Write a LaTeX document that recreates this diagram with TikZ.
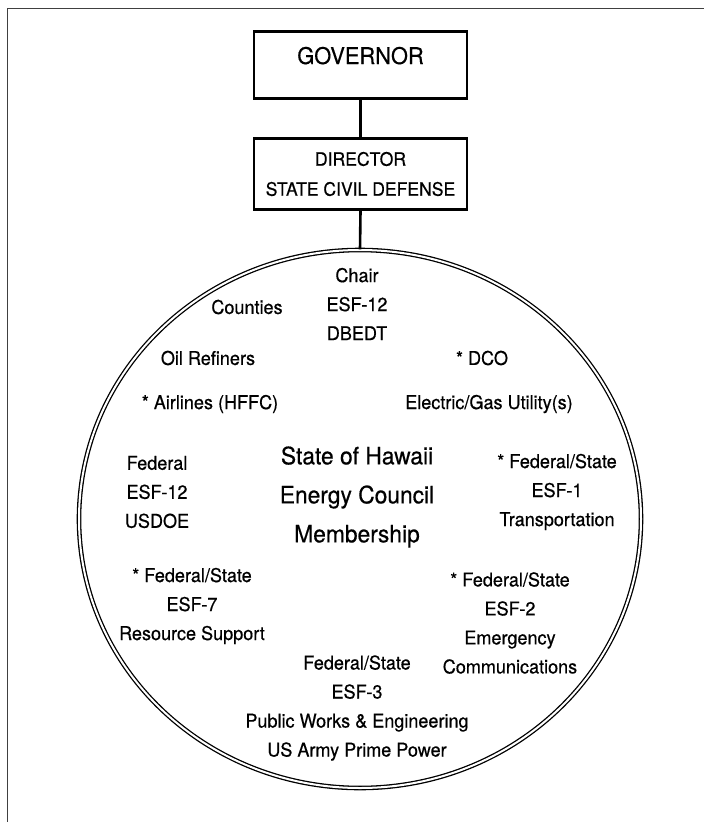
\documentclass[tikz,border=0pt]{standalone}
\usepackage{fontspec}
\setmainfont[FakeStretch=0.95,FakeBold=0.5]{TeX Gyre Heros}
\usetikzlibrary{shapes.geometric}

\begin{document}
\begin{tikzpicture}[x=1pt,y=-1pt,
  orgbox/.style={draw,line width=2.6pt,minimum width=213pt,inner sep=0pt,align=center},
  member/.style={align=center,inner sep=0pt,font=\fontsize{19}{29}\selectfont},
  link/.style={line width=2.6pt}]
\useasboundingbox (0,0) rectangle (704,822);
\draw[line width=1.5pt,black!75] (7.5,822) -- (7.5,8.5) -- (704,8.5);
\node[orgbox,minimum height=67.4pt,text height=16pt,text depth=18pt,font=\fontsize{23}{27}\selectfont] (gov) at (360.5,65) {GOVERNOR};
\node[orgbox,minimum height=71.4pt,font=\fontsize{18.5}{30}\selectfont] (dir) at (360.5,174) {DIRECTOR\\STATE CIVIL DEFENSE};
\node[draw,ellipse,double,double distance=2pt,line width=1.3pt,inner sep=0pt,minimum width=562pt,minimum height=538pt] (council) at (360,519) {};
\draw[link] (gov.south) -- (dir.north);
\draw[link] (dir.south) -- (council.north);
\node[member] (chair) at (357,304) {Chair\\ESF-12\\DBEDT};
\node[member] (counties) at (247,307) {Counties};
\node[member] (refiners) at (208,358) {Oil Refiners};
\node[member] (dco) at (482,358) {* DCO};
\node[member] (airlines) at (210,404) {* Airlines (HFFC)};
\node[member] (utility) at (489,404) {Electric/Gas Utility(s)};
\node[member,font=\fontsize{24}{39}\selectfont] (title) at (357,497) {State of Hawaii\\Energy Council\\Membership};
\node[member] (esf12) at (157,492) {Federal\\ESF-12\\USDOE};
\node[member] (esf1) at (557,492) {* Federal/State\\ESF-1\\Transportation};
\node[member] (esf7) at (192,606) {* Federal/State\\ESF-7\\Resource Support};
\node[member] (esf2) at (510,623) {* Federal/State\\ESF-2\\Emergency\\Communications};
\node[member] (esf3) at (357,708) {Federal/State\\ESF-3\\Public Works \& Engineering\\US Army Prime Power};
\end{tikzpicture}
\end{document}
